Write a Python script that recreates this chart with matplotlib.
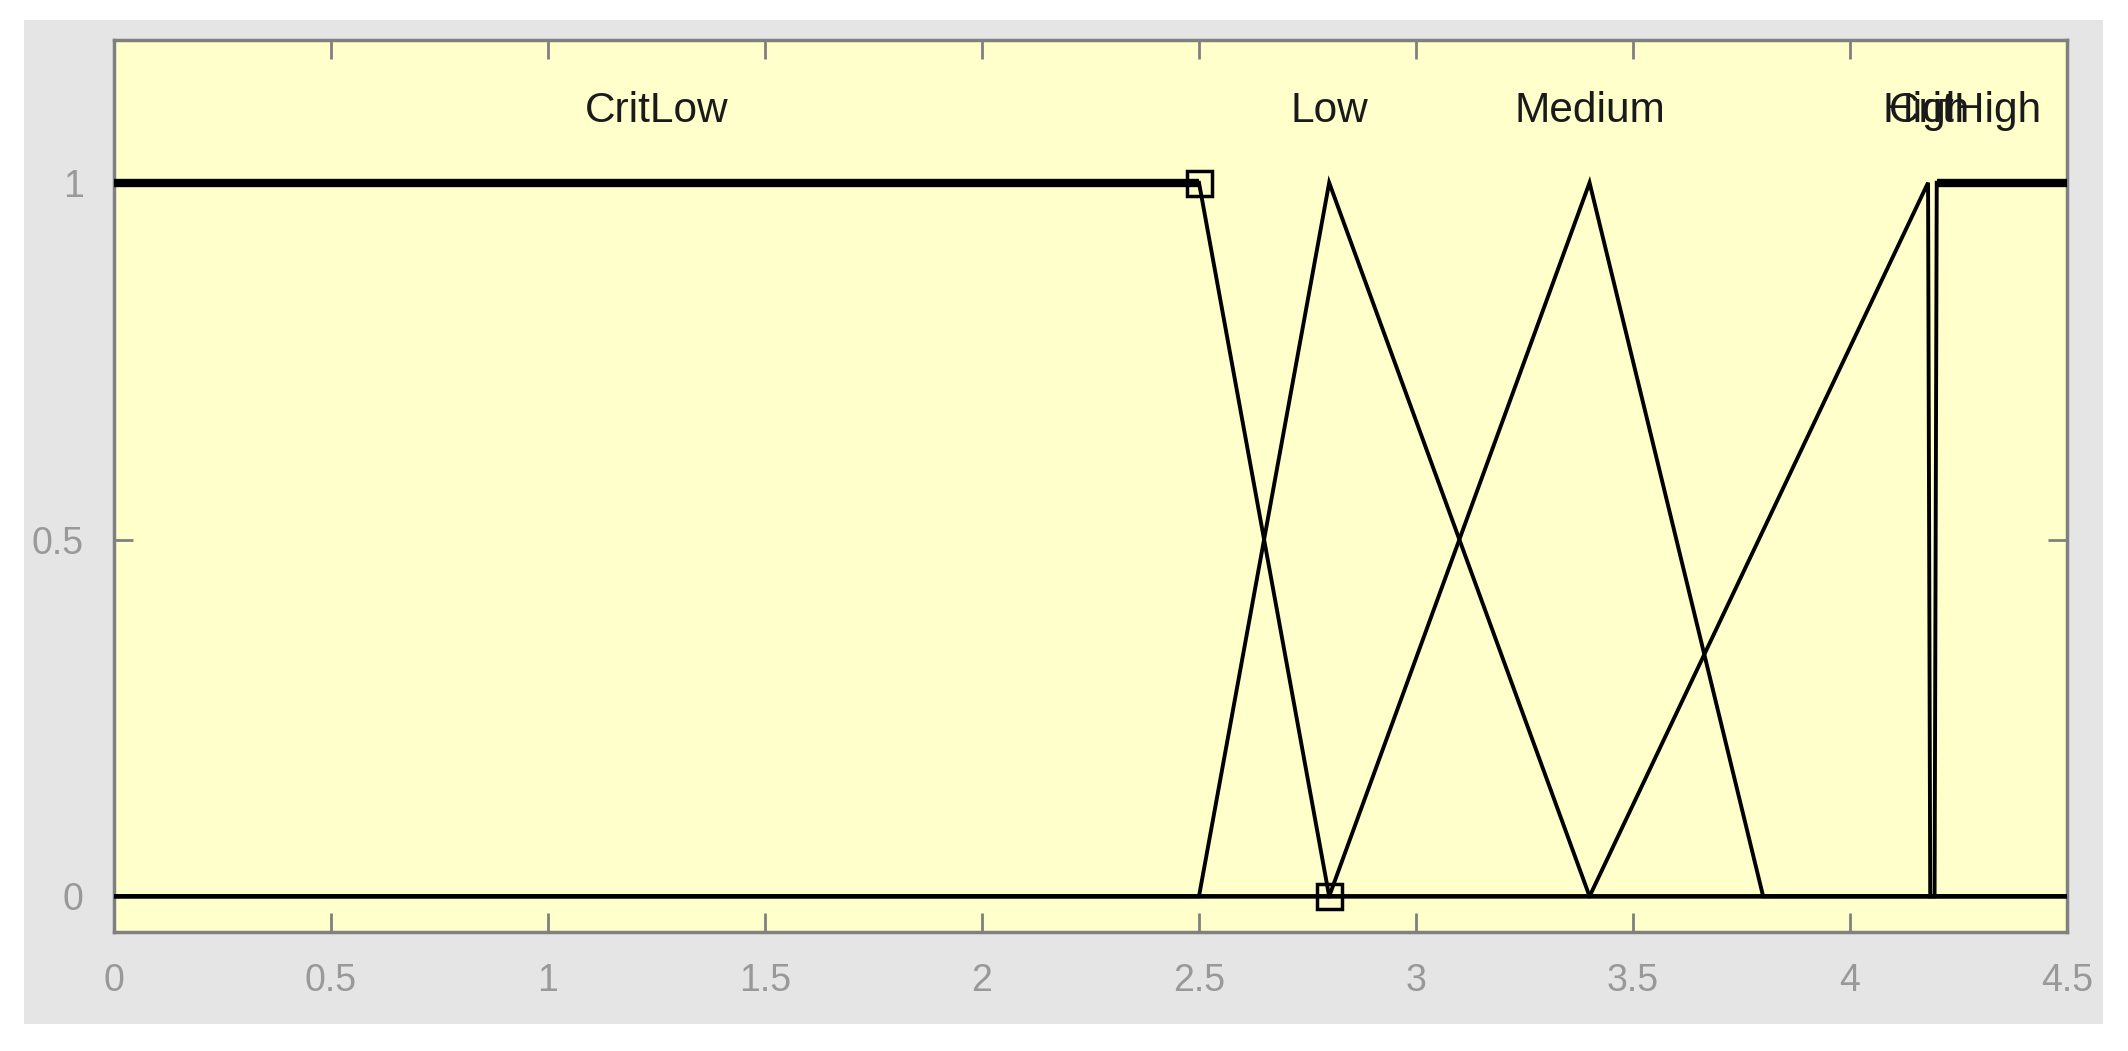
import numpy as np
import matplotlib
matplotlib.use("Agg")
import matplotlib.pyplot as plt
from matplotlib.patches import Rectangle

# membership functions: name, breakpoints (x where the polyline turns)
mf_names = ["CritLow", "Low", "Medium", "High", "CritHigh"]
mf_x = [[0.0, 2.5, 2.8],
        [2.5, 2.8, 3.4],
        [2.8, 3.4, 3.8],
        [3.4, 4.18, 4.185],
        [4.195, 4.2, 4.5]]
mf_y = [[1, 1, 0],
        [0, 1, 0],
        [0, 1, 0],
        [0, 1, 0],
        [0, 1, 1]]
label_x = [1.25, 2.8, 3.4, 4.175, 4.265]
label_y = 1.1
sel_x = [2.5, 2.8]      # selected MF handles
sel_y = [1, 0]

xticks = np.arange(0, 4.51, 0.5)
xlabels = ["0", "0.5", "1", "1.5", "2", "2.5", "3", "3.5", "4", "4.5"]
yticks = [0, 0.5, 1]
ylabels = ["0", "0.5", "1"]

plt.rcParams['font.family'] = ['Liberation Sans', 'DejaVu Sans']

fig = plt.figure(figsize=(21.28, 10.51), dpi=100)
fig.patch.set_facecolor('white')
fig.patches.append(Rectangle((0.0113, 0.0257), 0.977, 0.9553, transform=fig.transFigure,
                             facecolor='#e5e5e5', edgecolor='none', zorder=-10))

ax = fig.add_axes([0.0536, 0.1132, 0.9177, 0.8488])
ax.set_facecolor('#ffffcc')

xmin, xmax = 0, 4.5
for i in range(len(mf_names)):
    xs = [xmin] + mf_x[i] + [xmax]
    ys = [mf_y[i][0]] + mf_y[i] + [mf_y[i][-1]]
    ax.plot(xs, ys, color='black', lw=2.8, solid_joinstyle='miter', zorder=3)
    # flat shoulder at full membership drawn heavier
    top = [x for x, y in zip(xs, ys) if y == 1]
    if len(top) > 2:
        ax.plot([min(top), max(top)], [1, 1], color='black', lw=6, solid_capstyle='butt', zorder=3)
    ax.text(label_x[i], label_y, mf_names[i], ha='center', va='center',
            fontsize=30.5, color='#1a1a1a', zorder=4)

ax.plot(sel_x, sel_y, linestyle='none', marker='s', markersize=18,
        markerfacecolor='none', markeredgecolor='black', markeredgewidth=2.5, zorder=5, clip_on=False)

ax.set_xlim(xmin, xmax)
ax.set_ylim(-0.05, 1.2)
ax.set_xticks(xticks)
ax.set_xticklabels(xlabels)
ax.set_yticks(yticks)
ax.set_yticklabels(ylabels)
ax.tick_params(direction='in', length=14, width=2, color='#808080', labelcolor='#999999',
               labelsize=27, top=True, right=True, pad=22)
for s in ax.spines.values():
    s.set_color('#808080')
    s.set_linewidth(2.5)

fig.savefig('out.png', dpi=100)
